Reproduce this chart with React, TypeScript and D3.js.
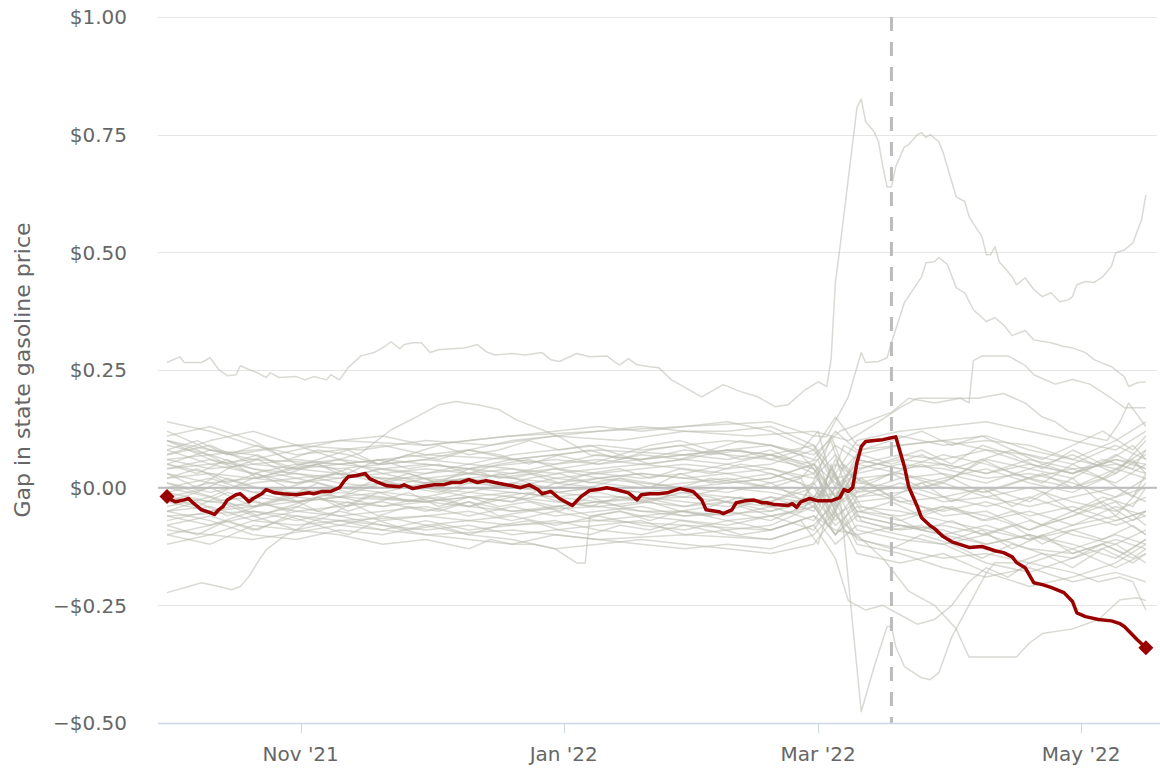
import React from "react";
import * as d3 from "d3";

// ---------- DATA ----------
// days are counted from 2021-10-01
const startDate = "2021-10-01";
const eventDate = "2022-03-18";
const yTickValues = [-0.5, -0.25, 0, 0.25, 0.5, 0.75, 1.0];
const yAxisTitle = "Gap in state gasoline price";

// highlighted state (red)
const highlighted: [number, number][] = [
  [0,-.019],[1,-.026],[2,-.030],[4,-.026],[5,-.023],[6,-.032],[8,-.047],[10,-.053],[11,-.057],[12,-.047],
  [13,-.040],[14,-.026],[16,-.015],[17,-.013],[18,-.021],[19,-.030],[20,-.023],[22,-.013],[23,-.004],[25,-.011],
  [27,-.013],[30,-.015],[33,-.011],[34,-.013],[36,-.008],[38,-.008],[40,.000],[41,.013],[42,.023],[44,.026],
  [46,.030],[47,.019],[49,.011],[51,.004],[54,.002],[55,.006],[57,-.002],[59,.002],[62,.006],[64,.006],
  [66,.011],[68,.011],[70,.017],[72,.011],[74,.015],[76,.011],[80,.004],[82,.000],[84,.006],[86,-.004],
  [87,-.013],[89,-.008],[91,-.023],[94,-.038],[96,-.019],[98,-.006],[100,-.004],[102,.000],[104,-.004],[107,-.011],
  [109,-.026],[110,-.015],[112,-.013],[114,-.013],[116,-.011],[117,-.008],[119,-.002],[121,-.006],[122,-.008],[124,-.026],
  [125,-.047],[128,-.051],[129,-.055],[131,-.047],[132,-.032],[134,-.028],[136,-.026],[138,-.032],[139,-.032],[141,-.036],
  [144,-.038],[145,-.034],[146,-.042],[147,-.030],[149,-.023],[151,-.028],[154,-.028],[156,-.021],[157,-.004],[158,-.008],
  [159,.000],[160,.053],[161,.087],[162,.098],[164,.100],[166,.102],[168,.106],[169,.108],[171,.045],[172,.002],
  [174,-.040],[175,-.064],[177,-.081],[178,-.087],[180,-.104],[182,-.115],[184,-.121],[186,-.127],[189,-.125],[192,-.134],
  [194,-.138],[196,-.147],[197,-.159],[199,-.170],[201,-.202],[203,-.206],[205,-.212],[208,-.223],[210,-.242],[211,-.266],
  [213,-.274],[216,-.280],[219,-.283],[221,-.289],[222,-.295],[225,-.323],[227,-.340],
];

// other states (grey), shared sampling days for the central band
const bandDays = [0,10,20,30,40,50,60,70,80,90,100,110,120,130,140,150,155,160,170,180,190,200,210,220,227];
const band01 = [.14,.12,.09,.07,.08,.09,.07,.08,.10,.11,.12,.13,.12,.12,.13,.09,.03,.10,.12,.13,.14,.12,.10,.08,.12];
const band02 = [.11,.13,.10,.05,.04,.05,.06,.05,.07,.08,.09,.08,.09,.10,.09,.06,.12,.08,.09,.10,.08,.07,.05,.09,.06];
const band03 = [.09,.07,.04,.03,.02,.04,.05,.04,.05,.06,.05,.06,.07,.06,.08,.04,-.05,.05,.07,.06,.08,.05,.03,.06,.04];
const band04 = [.07,.10,.12,.09,.06,.03,.04,.03,.02,.04,.03,.04,.05,.04,.05,.08,.02,.03,.05,.04,.02,.03,.01,-.02,.02];
const band05 = [.06,.04,.05,.06,.05,.04,.03,.05,.04,.03,.04,.05,.04,.03,.04,.02,.07,.01,.00,.02,.04,.01,-.01,.03,.07];
const band06 = [.05,.03,.02,.04,.03,.02,.02,.03,.04,.02,.03,.02,.03,.05,.03,.00,-.03,.04,.06,.05,.03,.06,.04,.01,.05];
const band07 = [.04,.06,.03,.01,.02,.03,.01,.02,.03,.04,.02,.03,.02,.01,.02,.05,.01,-.02,-.01,.01,-.02,-.04,-.02,.00,-.03];
const band08 = [.03,.01,.02,.03,.01,.00,.02,.01,.00,.02,.01,.00,.01,.02,.00,-.02,.05,.02,.03,.00,-.01,.02,.04,.05,.03];
const band09 = [.02,.03,.00,-.01,.00,.01,.00,-.01,.01,.00,.02,.01,.00,-.01,.01,.03,-.04,.00,-.03,-.05,-.03,-.06,-.04,-.07,-.05];
const band10 = [.01,-.01,.01,.02,.00,-.01,.01,.02,.00,-.01,.00,-.01,-.02,.00,-.01,-.03,.02,-.05,-.06,-.04,-.07,-.05,-.08,-.04,-.06];
const band11 = [.00,.02,-.01,.00,-.02,-.01,-.02,.00,-.01,-.02,-.01,-.03,-.01,-.02,-.03,.01,-.06,-.03,-.02,-.06,-.05,-.09,-.06,-.03,-.08];
const band12 = [-.01,-.03,-.02,-.03,-.01,-.02,-.03,-.02,-.03,-.01,-.02,-.02,-.03,-.04,-.02,-.05,.03,-.07,-.09,-.08,-.10,-.07,-.10,-.12,-.09];
const band13 = [-.02,.00,-.04,-.02,-.03,-.04,-.02,-.04,-.02,-.03,-.04,-.03,-.04,-.03,-.05,-.02,-.08,-.04,-.05,-.07,-.09,-.11,-.08,-.06,-.10];
const band14 = [-.03,-.05,-.03,-.05,-.04,-.03,-.05,-.03,-.05,-.04,-.03,-.05,-.05,-.06,-.04,-.07,.00,-.09,-.11,-.12,-.10,-.13,-.14,-.11,-.13];
const band15 = [-.04,-.02,-.06,-.04,-.06,-.05,-.04,-.06,-.04,-.06,-.05,-.04,-.06,-.05,-.07,-.03,-.10,-.06,-.08,-.09,-.12,-.10,-.12,-.15,-.11];
const band16 = [-.06,-.08,-.05,-.07,-.05,-.07,-.06,-.05,-.07,-.05,-.07,-.06,-.07,-.08,-.06,-.09,-.02,-.11,-.13,-.15,-.14,-.16,-.13,-.17,-.14];
const band17 = [-.08,-.06,-.09,-.06,-.08,-.06,-.08,-.07,-.06,-.08,-.06,-.08,-.09,-.07,-.09,-.06,-.12,-.08,-.10,-.12,-.16,-.18,-.15,-.12,-.16];
const band18 = [-.10,-.12,-.08,-.09,-.07,-.09,-.07,-.09,-.08,-.07,-.09,-.10,-.08,-.10,-.11,-.08,-.03,-.12,-.14,-.17,-.19,-.17,-.20,-.18,-.20];
const band19 = [-.12,-.10,-.07,-.05,-.06,-.08,-.10,-.11,-.12,-.10,-.11,-.12,-.13,-.12,-.13,-.10,-.05,-.14,-.16,-.14,-.18,-.21,-.19,-.16,-.12];
const band20 = [.12,.08,.06,.08,.10,.11,.09,.10,.11,.12,.13,.12,.13,.14,.12,.08,.15,.09,.11,.09,.10,.09,.06,.04,.08];
const band21 = [.08,.05,.03,.05,.06,.05,.06,.08,.06,.05,.07,.06,.08,.07,.06,.04,-.02,.07,.09,.10,.11,.08,.06,.10,.14];
const band22 = [-.05,-.04,-.07,-.08,-.07,-.08,-.09,-.08,-.10,-.09,-.08,-.07,-.10,-.09,-.08,-.04,-.10,-.02,.01,-.02,-.04,-.02,-.05,-.02,.00];
const band23 = [.10,.06,.04,.02,.03,.01,.03,.04,.03,.05,.06,.05,.06,.08,.07,.03,.09,.06,.04,.07,.05,.02,.00,.04,.02];
const band24 = [-.07,-.05,-.04,-.01,-.02,.01,.00,-.02,-.03,.01,.00,-.01,.00,.01,.02,.05,-.02,.02,-.03,-.02,.00,-.03,.02,-.06,.01];
const band25 = [.00,-.02,.02,.01,.03,.02,.01,.03,.02,.01,.02,.03,.02,.03,.01,-.04,.06,-.01,.02,.03,.01,.04,.02,.07,.04];
const band26 = [-.05,-.07,-.10,-.11,-.09,-.10,-.08,-.10,-.11,-.13,-.12,-.11,-.12,-.13,-.14,-.12,-.06,-.10,-.08,-.10,-.08,-.11,-.09,-.07,-.05];
const band27 = [.05,.08,.07,.04,.05,.06,.05,.04,.06,.07,.05,.07,.06,.05,.07,.09,.00,.05,.03,.01,.06,.04,.07,.03,.10];
const band28 = [-.01,.01,-.01,-.03,-.02,-.04,-.03,-.01,-.02,-.04,-.03,-.02,-.04,-.02,-.03,.00,-.07,-.01,.00,-.03,-.02,.00,-.03,-.05,-.02];
const bandSeries = [band01,band02,band03,band04,band05,band06,band07,band08,band09,band10,band11,band12,band13,band14,
  band15,band16,band17,band18,band19,band20,band21,band22,band23,band24,band25,band26,band27,band28];

// more grey states on a weekly grid
const weekDays = [0,7,14,21,28,35,42,49,56,63,70,77,84,91,98,105,112,119,126,133,140,147,151,154,157,161,168,175,182,189,196,203,210,217,224,227];
const week01 = [.05,.03,.06,.02,.04,.05,.03,.06,.04,.05,.03,.05,.06,.04,.05,.07,.05,.06,.08,.06,.07,.05,.06,.10,.01,.04,.06,.08,.05,.09,.07,.04,.08,.05,.09,.06];
const week02 = [.02,.04,.01,.03,.00,.02,.04,.01,.03,.01,.02,.00,.02,.03,.01,.02,.00,.03,.01,.02,.03,.01,-.03,.04,-.01,.02,-.02,.01,-.03,.00,-.04,-.01,-.05,-.02,-.04,.00];
const week03 = [-.02,-.04,-.01,-.03,-.05,-.02,-.04,-.01,-.03,-.02,-.04,-.02,-.01,-.03,-.04,-.02,-.03,-.01,-.02,-.04,-.02,-.03,.03,-.06,.02,-.04,-.06,-.09,-.07,-.10,-.08,-.12,-.09,-.11,-.08,-.10];
const week04 = [-.05,-.03,-.06,-.04,-.02,-.05,-.03,-.06,-.04,-.05,-.03,-.06,-.05,-.04,-.06,-.05,-.07,-.05,-.06,-.04,-.06,-.05,-.01,-.08,.00,-.07,-.09,-.08,-.11,-.09,-.13,-.10,-.14,-.12,-.15,-.13];
const week05 = [.08,.10,.07,.09,.06,.08,.07,.05,.07,.06,.08,.07,.05,.07,.08,.06,.08,.09,.07,.08,.06,.08,.12,.02,.09,.07,.05,.07,.04,.06,.08,.05,.03,.06,.04,.08];
const week06 = [.03,.00,.04,.06,.03,.05,.02,.04,.03,.01,.04,.02,.03,.01,.03,.04,.02,.04,.03,.05,.04,.02,.06,-.02,.05,.01,.03,.00,.02,-.01,.01,.03,.00,.02,-.02,.03];
const week07 = [-.08,-.10,-.07,-.09,-.06,-.08,-.10,-.07,-.09,-.08,-.10,-.08,-.07,-.09,-.10,-.08,-.09,-.07,-.08,-.10,-.09,-.07,-.12,-.03,-.09,-.11,-.13,-.10,-.12,-.15,-.12,-.14,-.17,-.13,-.16,-.14];
const week08 = [.01,-.01,.02,.00,-.02,.01,-.01,.02,.00,-.01,.01,.03,.01,-.01,.00,.02,.01,.00,.02,.01,.00,.02,-.05,.05,-.03,.00,.03,.05,.02,.06,.03,.01,.05,.02,.06,.03];
const week09 = [-.03,-.01,-.03,-.06,-.04,-.02,-.05,-.03,-.01,-.04,-.02,-.04,-.03,-.05,-.02,-.04,-.03,-.05,-.04,-.02,-.04,-.03,.02,-.07,.01,-.05,-.03,-.06,-.04,-.07,-.05,-.08,-.06,-.03,-.07,-.05];
const week10 = [.10,.08,.05,.07,.04,.06,.08,.05,.07,.09,.07,.08,.10,.08,.09,.07,.09,.10,.08,.10,.09,.07,.03,.11,.04,.08,.10,.12,.09,.11,.08,.06,.09,.12,.08,.11];
const weekSeries = [week01,week02,week03,week04,week05,week06,week07,week08,week09,week10];

// individually traced grey states [day, value]
const outlierHigh: [number, number][] = [
  [0,.266],[3,.278],[4,.266],[8,.266],[10,.276],[12,.251],[14,.238],[16,.240],[17,.259],[19,.251],[21,.244],[23,.234],
  [24,.244],[26,.234],[30,.236],[32,.229],[34,.236],[37,.229],[38,.240],[40,.229],[42,.255],[45,.280],[48,.287],[50,.297],
  [52,.310],[54,.295],[55,.304],[57,.308],[59,.308],[61,.287],[63,.293],[66,.295],[69,.297],[72,.304],[74,.289],[76,.282],
  [80,.285],[83,.282],[87,.287],[89,.272],[91,.268],[95,.285],[98,.278],[102,.280],[104,.266],[105,.261],[107,.274],[109,.261],
  [112,.257],[114,.255],[117,.229],[124,.193],[129,.219],[133,.204],[137,.193],[141,.172],[144,.176],[148,.208],[151,.225],
  [153,.215],[154,.272],[155,.436],[156,.506],[160,.807],[161,.826],[162,.778],[164,.756],[165,.735],[166,.682],[167,.639],
  [168,.639],[169,.682],[171,.724],[172,.729],[174,.750],[175,.754],[176,.744],[177,.750],[179,.735],[180,.712],[183,.618],
  [185,.608],[186,.576],[189,.533],[190,.495],[191,.495],[192,.512],[193,.480],[196,.448],[197,.431],[199,.446],[201,.421],
  [203,.406],[205,.414],[207,.395],[209,.399],[210,.406],[211,.431],[213,.438],[215,.436],[217,.448],[219,.470],[220,.499],
  [222,.505],[224,.520],[226,.569],[227,.622],
];
const outlierRise: [number, number][] = [
  [0,.06],[20,.08],[40,.10],[60,.09],[80,.11],[100,.12],[120,.13],[140,.14],[150,.11],[153,.108],[158,.193],[161,.287],
  [162,.266],[165,.268],[167,.276],[168,.308],[171,.393],[175,.448],[176,.478],[178,.480],[179,.489],[181,.474],[183,.425],
  [185,.414],[187,.378],[190,.353],[192,.361],[194,.346],[196,.323],[199,.334],[201,.314],[205,.308],[208,.300],[210,.297],
  [213,.287],[215,.272],[219,.257],[222,.236],[223,.215],[225,.223],[227,.225],
];
const outlierPlateau: [number, number][] = [
  [0,.10],[15,.07],[30,.09],[45,.08],[60,.10],[75,.09],[90,.11],[105,.10],[120,.12],[135,.11],[150,.12],[158,.10],[165,.14],
  [170,.17],[174,.19],[180,.19],[188,.19],[194,.20],[199,.18],[203,.15],[206,.14],[209,.12],[213,.11],[218,.10],[221,.14],
  [223,.18],[227,.13],
];
const outlierJump: [number, number][] = [
  [0,.04],[20,.06],[40,.05],[60,.07],[80,.06],[100,.08],[120,.07],[140,.09],[150,.07],[156,.12],[162,.14],[168,.16],[172,.19],
  [178,.18],[184,.19],[186,.18],[187,.27],[189,.28],[195,.28],[199,.26],[201,.24],[206,.22],[210,.23],[214,.22],[219,.19],
  [222,.17],[227,.17],
];
const outlierDip: [number, number][] = [
  [0,-.02],[20,-.04],[40,-.02],[60,-.03],[80,-.01],[100,-.03],[120,-.02],[140,-.04],[150,-.02],[156,-.01],[161,-.476],[164,-.38],
  [167,-.295],[168,-.295],[169,-.338],[171,-.38],[175,-.404],[177,-.408],[179,-.393],[182,-.317],[185,-.266],[187,-.232],
  [190,-.181],[192,-.159],[197,-.16],[203,-.14],[210,-.15],[217,-.12],[222,-.14],[227,-.11],
];
const outlierLowFlat: [number, number][] = [
  [0,-.06],[20,-.05],[40,-.07],[60,-.06],[80,-.08],[100,-.07],[120,-.08],[140,-.09],[150,-.06],[155,-.09],[160,-.10],[166,-.15],
  [172,-.22],[178,-.25],[183,-.30],[186,-.36],[190,-.36],[197,-.36],[200,-.33],[203,-.31],[210,-.30],[216,-.28],[221,-.238],
  [225,-.234],[227,-.24],
];
const outlierLow2: [number, number][] = [
  [0,-.09],[20,-.11],[40,-.08],[60,-.10],[80,-.09],[100,-.11],[120,-.10],[140,-.11],[150,-.08],[155,-.15],[158,-.24],[162,-.26],
  [166,-.25],[170,-.27],[174,-.29],[178,-.28],[182,-.25],[186,-.20],[190,-.17],[195,-.19],[200,-.16],[210,-.18],[216,-.20],
  [221,-.19],[224,-.20],[227,-.26],
];
const outlierEarlyLow: [number, number][] = [
  [0,-.223],[5,-.21],[8,-.202],[12,-.21],[15,-.217],[17,-.21],[19,-.189],[21,-.159],[23,-.132],[27,-.104],[30,-.089],[33,-.074],
  [37,-.062],[40,-.047],[43,-.032],[46,-.019],[60,-.03],[80,-.05],[100,-.04],[120,-.06],[140,-.05],[150,-.03],[155,.03],
  [160,-.06],[170,-.08],[180,-.10],[190,-.12],[200,-.10],[210,-.13],[220,-.10],[227,-.12],
];
const outlierHump: [number, number][] = [
  [0,.07],[10,.09],[20,.05],[30,.04],[40,.06],[45,.074],[52,.123],[58,.151],[63,.176],[67,.183],[72,.176],[77,.166],[81,.144],
  [87,.123],[91,.108],[95,.087],[98,.07],[110,.06],[120,.07],[130,.08],[140,.07],[150,.05],[155,-.02],[160,.06],[170,.04],
  [180,.05],[190,.03],[200,.05],[210,.03],[220,.06],[227,.05],
];
const outlierStep: [number, number][] = [
  [0,-.10],[10,-.08],[20,-.06],[30,-.09],[40,-.10],[50,-.12],[60,-.11],[70,-.13],[75,-.11],[80,-.12],[85,-.12],[90,-.13],
  [95,-.16],[97,-.16],[98,-.062],[105,-.05],[110,-.06],[120,-.05],[130,-.07],[140,-.06],[150,-.04],[155,-.10],[160,-.05],
  [170,-.07],[180,-.04],[190,-.06],[200,-.09],[210,-.05],[220,-.08],[227,-.06],
];
const outlierSeries = [outlierHigh, outlierRise, outlierPlateau, outlierJump, outlierDip, outlierLowFlat, outlierLow2,
  outlierEarlyLow, outlierHump, outlierStep];

// ---------- CHART ----------
const W = 1160, H = 772;
const M = { left: 158, right: 1157, top: 17, bottom: 723 };
const FONT = "'DejaVu Sans', Verdana, sans-serif";

const start = new Date(startDate + "T00:00:00");
const dayToDate = (d: number) => new Date(start.getTime() + d * 86400000);

const x = d3.scaleTime()
  .domain([dayToDate(-2.083), dayToDate(229.583)])
  .range([M.left, M.right]);
const y = d3.scaleLinear().domain([-0.5, 1.0]).range([M.bottom, M.top]);

const line = d3.line<[number, number]>()
  .x((d) => x(dayToDate(d[0])))
  .y((d) => y(d[1]));

const fmtY = (v: number) => (v < 0 ? "\u2212$" : "$") + Math.abs(v).toFixed(2);
const fmtX = d3.timeFormat("%b '%y");

const zipDays = (days: number[], vals: number[]) =>
  vals.slice(0, days.length).map((v, i) => [days[i], v] as [number, number]);

export default function App() {
  const greyLines: [number, number][][] = [
    ...bandSeries.map((vals) => zipDays(bandDays, vals)),
    ...weekSeries.map((vals) => zipDays(weekDays, vals)),
    ...outlierSeries,
  ];
  const xTicks = x.ticks(d3.timeMonth.every(2) as any);
  const ev = x(new Date(eventDate + "T00:00:00"));
  const first = highlighted[0];
  const last = highlighted[highlighted.length - 1];
  const diamond = (d: [number, number], r: number) => {
    const cx = x(dayToDate(d[0])), cy = y(d[1]);
    return `M${cx},${cy - r}L${cx + r},${cy}L${cx},${cy + r}L${cx - r},${cy}Z`;
  };

  return (
    <div style={{ position: "absolute", left: 0, top: 0 }}>
      <svg width={W} height={H} style={{ display: "block", background: "#fff" }} fontFamily={FONT}>
        {/* grid */}
        {yTickValues.map((v) => (
          <line key={v} x1={M.left} x2={M.right} y1={Math.round(y(v)) + 0.5} y2={Math.round(y(v)) + 0.5}
            stroke="#e6e6e6" strokeWidth={1} />
        ))}
        {/* y labels */}
        {yTickValues.map((v) => (
          <text key={"l" + v} x={127} y={y(v)} dy="0.36em" textAnchor="end" fontSize={20} fill="#666666">
            {fmtY(v)}
          </text>
        ))}
        {/* y title */}
        <text transform={`translate(22,${(M.top + M.bottom) / 2}) rotate(-90)`} textAnchor="middle"
          dominantBaseline="central" fontSize={22} fill="#666666">
          {yAxisTitle}
        </text>
        {/* grey states */}
        <g fill="none" stroke="#b9bcae" strokeOpacity={0.55} strokeWidth={1.5} strokeLinejoin="round">
          {greyLines.map((s, i) => (
            <path key={i} d={line(s) || ""} />
          ))}
        </g>
        {/* zero line */}
        <line x1={M.left} x2={M.right} y1={y(0)} y2={y(0)} stroke="#bdbdbd" strokeWidth={2} />
        {/* event line */}
        <line x1={ev} x2={ev} y1={M.top} y2={M.bottom} stroke="#bbbbbb" strokeWidth={3} strokeDasharray="14,11" />
        {/* highlighted */}
        <path d={line(highlighted) || ""} fill="none" stroke="#990000" strokeWidth={3.5} strokeLinejoin="round" />
        <path d={diamond(first, 7.5)} fill="#990000" />
        <path d={diamond(last, 7.5)} fill="#990000" />
        {/* x axis */}
        <line x1={M.left} x2={W} y1={M.bottom + 0.5} y2={M.bottom + 0.5} stroke="#ccd6eb" strokeWidth={1.5} />
        {xTicks.map((t) => (
          <g key={+t}>
            <line x1={Math.round(x(t)) + 0.5} x2={Math.round(x(t)) + 0.5} y1={M.bottom} y2={M.bottom + 10}
              stroke="#ccd6eb" strokeWidth={1} />
            <text x={x(t)} y={761} textAnchor="middle" fontSize={20} fill="#666666">{fmtX(t)}</text>
          </g>
        ))}
      </svg>
    </div>
  );
}
